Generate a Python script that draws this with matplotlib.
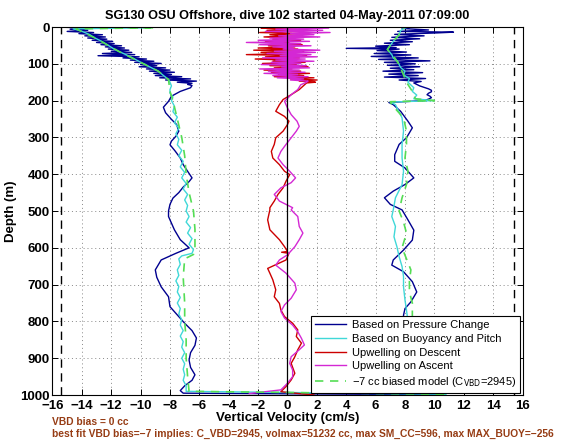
import matplotlib
matplotlib.use("Agg")
import matplotlib.pyplot as plt
import numpy as np

plt.rcParams['font.family'] = ['Liberation Sans', 'DejaVu Sans']

# ---------------- data ----------------
title = "SG130 OSU Offshore, dive 102 started 04-May-2011 07:09:00"
xticks = list(range(-16, 17, 2))
yticks = list(range(0, 1001, 100))
vmax_lines = [-15.4, 15.4]

# Based on pressure change (dive then climb)
blue_down_d = [0, 3, 6, 9, 12, 15, 18, 21, 24, 27, 30, 33, 36, 39, 42, 45, 48, 51, 54, 57,
               60, 63, 66, 69, 72, 75, 78, 81, 84, 87, 90, 93, 96, 99, 102, 105, 108, 111, 114, 117,
               120, 123, 126, 129, 132, 135, 138, 141, 144, 147, 150, 153, 156, 159,
               165, 175, 188, 202, 218, 233, 251, 265, 283, 297, 310, 320, 337, 356, 374, 392,
               410, 420, 435, 450, 465, 482, 500, 515, 533, 551, 578, 600, 615, 633, 660, 680,
               706, 733, 760, 787, 805, 825, 845, 865, 885, 905, 925, 945, 960, 975, 988, 995]
blue_down_v = [-15.9, -13.0, -14.8, -13.6, -15.0, -13.2, -14.2, -12.6, -13.8, -12.4, -13.6, -12.3, -13.3, -11.9, -13.0, -11.8, -12.7, -11.3, -12.4, -11.1,
               -12.2, -10.8, -12.0, -10.6, -12.6, -10.4, -12.9, -10.1, -11.2, -9.6, -10.7, -9.1, -10.4, -8.6, -10.0, -8.9, -10.1, -8.3, -9.6, -8.0,
               -9.4, -7.7, -9.1, -7.9, -9.0, -7.2, -8.7, -6.6, -8.3, -6.2, -7.5, -6.5, -6.8, -6.5,
               -6.6, -7.3, -7.9, -8.1, -8.45, -8.3, -7.9, -7.55, -7.4, -7.6, -7.9, -8.0, -7.65, -7.3, -7.1, -6.8,
               -6.5, -6.7, -7.1, -7.4, -7.8, -8.0, -8.1, -8.1, -7.9, -7.7, -7.3, -6.7, -7.6, -8.6, -9.0, -8.9,
               -8.6, -8.1, -8.0, -7.4, -7.0, -6.5, -6.2, -6.3, -6.6, -6.7, -6.6, -6.3, -6.5, -7.0, -7.3, -7.1]
blue_up_d = [999, 985, 960, 940, 920, 900, 880, 860, 840, 820, 800, 783, 765, 747, 720, 692, 665, 647, 633, 606,
             579, 552, 524, 497, 482, 464, 446, 428, 410, 383, 365, 347, 319, 301, 274, 256, 229, 211, 205,
             200, 196, 192, 188, 184, 180, 176, 172, 168, 164, 160, 156, 152,
             148, 144, 140, 136, 132, 128, 124, 120, 116, 112, 108, 104, 100, 96, 92, 88, 84, 80,
             76, 72, 68, 64, 60, 58, 56, 52, 48, 44, 40, 36, 32, 28, 24, 20, 16, 14, 12, 8, 4, 0]
blue_up_v = [10.2, 9.5, 8.8, 8.5, 8.3, 8.6, 8.8, 8.5, 8.2, 8.0, 7.9, 7.9, 8.0, 8.4, 8.8, 8.5, 7.9, 7.1, 7.2, 7.9,
             8.5, 8.6, 8.2, 7.8, 7.0, 6.6, 7.2, 8.0, 8.6, 8.0, 7.3, 7.3, 7.6, 8.1, 8.5, 8.2, 7.7, 7.2, 6.9,
             9.3, 9.6, 9.8, 9.7, 9.5, 9.6, 9.8, 9.8, 9.6, 9.3, 9.0, 8.8, 8.6,
             9.1, 7.6, 9.4, 6.6, 8.9, 6.9, 9.2, 6.5, 8.6, 7.0, 9.0, 6.8, 8.7, 6.6, 9.7, 6.2, 8.9, 5.7,
             8.4, 5.9, 8.1, 6.1, 7.6, 4.0, 7.4, 6.0, 8.3, 6.6, 8.5, 7.0, 9.0, 7.1, 9.3, 7.3, 10.2, 11.3, 7.5, 9.6, 7.8, 8.5]

# Based on buoyancy and pitch
cyan_down_d = [0, 2, 5, 10, 20, 30, 40, 50, 60, 66, 75, 85, 100, 110, 120, 130, 143, 150,
               160, 170, 180, 190, 200, 215, 230, 245, 260, 275, 290, 305, 320, 335, 350, 365, 380, 395,
               410, 425, 440, 455, 470, 485, 500, 515, 530, 545, 560, 575, 590, 605, 615, 622, 630, 645,
               660, 675, 690, 705, 720, 735, 750, 765, 780, 795, 810, 825, 840, 855, 870, 885, 900, 915,
               930, 945, 960, 975, 990]
cyan_down_v = [-16.0, -9.5, -14.6, -14.1, -13.5, -13.1, -12.6, -12.2, -11.8, -11.5, -11.0, -10.5, -9.8, -9.3, -8.8, -8.5, -8.1, -8.0,
               -7.9, -8.0, -8.0, -7.8, -7.9, -7.7, -7.8, -7.5, -7.7, -7.4, -7.6, -7.4, -7.5, -7.2, -7.4, -7.1, -7.3, -7.0,
               -7.2, -6.9, -7.1, -6.8, -7.0, -6.8, -6.9, -6.7, -6.9, -6.6, -6.8, -6.5, -6.7, -6.4, -6.5, -7.2, -7.4, -7.3,
               -7.5, -7.4, -7.6, -7.4, -7.5, -7.3, -7.5, -7.3, -7.4, -7.2, -7.3, -7.1, -7.3, -7.1, -7.2, -7.0, -7.2, -7.0,
               -7.1, -7.0, -7.1, -6.9, -6.9]
cyan_up_d = [998, 960, 920, 880, 840, 800, 769, 742, 706, 678, 651, 624, 597, 570, 542, 515, 497, 464, 428, 392,
             356, 319, 283, 247, 211, 204, 200, 195, 185, 175, 165, 150, 140, 130, 120, 110, 102, 93, 84, 75,
             61, 50, 39, 30, 21, 10, 4, 0]
cyan_up_v = [10.8, 8.4, 8.3, 8.3, 8.2, 8.2, 8.1, 8.0, 7.9, 7.9, 7.8, 7.6, 7.45, 7.25, 7.35, 7.1, 7.2, 7.35, 7.8, 7.9,
             7.8, 7.8, 7.9, 7.8, 7.35, 7.0, 10.0, 8.6, 8.8, 8.5, 8.6, 8.2, 8.3, 7.9, 8.0, 7.7, 7.6, 7.5, 7.2, 7.1,
             6.8, 7.0, 7.2, 7.4, 7.6, 7.7, 7.9, 8.2]

# Upwelling on descent
red_d = [0, 1, 3, 6, 9, 12, 15, 18, 21, 24, 27, 30, 33, 36, 39, 42, 45, 48, 51, 54, 57, 60,
         63, 66, 69, 72, 75, 78, 81, 84, 87, 90, 93, 96, 99, 102, 105, 108, 111, 114, 117, 120,
         123, 126, 129, 132, 135, 138, 141, 144, 147, 150,
         152, 170, 184, 197, 211, 229, 243, 256, 265, 283, 301, 319, 338, 356, 374, 392, 401, 419,
         437, 455, 473, 491, 497, 524, 551, 578, 597, 610, 612, 615, 633, 656, 669, 687, 714, 733,
         751, 769, 787, 805, 823, 841, 859, 877, 896, 914, 941, 959, 977, 991, 1000]
red_v = [16.0, -0.5, -1.8, 0.6, -1.4, 0.3, -1.9, 0.8, -1.2, 0.2, -1.6, 0.4, -1.0, 0.9, -1.5, 0.1, -0.8, 1.0, -1.3, 0.5, -2.0, 0.7,
         -2.3, 1.1, -1.8, 0.4, -2.8, 1.3, -1.5, 0.8, -2.2, 0.2, -1.0, 1.2, -1.7, 0.6, -1.2, 1.4, -0.9, 0.3, -1.6, 0.9,
         -1.1, 1.5, -0.6, 1.1, -0.9, 1.8, 0.2, 2.0, 0.8, 1.9,
         1.3, 0.8, 0.25, -0.3, -0.55, -0.8, -0.2, 0.1, 0.0, -0.3, -0.8, -0.9, -1.1, -1.0, -0.55, -0.2, 0.15, -0.1,
         -0.3, -0.65, -0.9, -1.2, -1.2, -1.35, -1.2, -0.55, -0.2, 0.0, -0.4, 0.1, -0.1, -1.35, -1.2, -1.0, -0.8, -0.9,
         -0.55, -0.45, -0.2, 0.35, 0.7, 0.6, 0.95, 0.7, 0.5, 0.25, 0.5, 0.25, -0.1, -0.45, 1.8]

# Upwelling on ascent
mag_d = [0, 3, 6, 9, 12, 15, 18, 21, 24, 27, 30, 33, 36, 39, 42, 45, 48, 51, 54, 57, 60,
         63, 66, 69, 72, 75, 78, 81, 84, 87, 90, 93, 96, 99, 102, 105, 108, 111, 114, 117, 120,
         123, 126, 129, 132, 135, 138, 141, 144, 147, 150,
         157, 170, 184, 202, 220, 238, 256, 270, 283, 301, 319, 338, 356, 374, 392, 410, 423, 437,
         455, 473, 491, 497, 515, 542, 560, 578, 597, 619, 633, 647, 669, 696, 714, 737, 755, 773,
         791, 810, 828, 846, 864, 877, 896, 914, 932, 950, 968, 986, 996]
mag_v = [1.0, 2.8, -0.8, 2.4, -1.5, 2.9, 0.2, 1.8, -0.6, 2.2, -1.2, 1.1, -2.0, 1.5, -2.8, 0.9, -1.9, 1.6, -1.0, 0.4, -0.3,
         2.2, -0.9, 1.9, -1.4, 1.6, -0.5, 2.0, -1.7, 1.2, -0.8, 1.8, -1.1, 0.9, -1.8, 1.3, -0.4, 1.5, -1.9, 0.8, -1.3,
         1.2, -1.6, 0.7, -1.0, 1.4, -0.7, 1.1, 0.2, 1.4, 1.3,
         0.9, 0.7, 0.25, -0.2, 0.0, 0.25, 0.65, 0.8, 0.6, 0.25, -0.1, -0.45, -0.65, -0.3, 0.15, 0.55, 0.25, -0.45,
         -0.9, -0.55, 0.35, 0.25, 0.7, 0.8, 1.05, 0.8, 0.5, 0.0, -0.55, -0.8, -0.1, 0.5, 0.6, 0.25, -0.2, -0.45,
         -0.2, 0.35, 0.7, 0.95, 1.15, 0.8, 0.25, 0.15, 0.35, 0.35, 0.0, -0.45, -2.6]

# -7 cc biased model
green_down_d = [0, 2, 5, 30, 66, 100, 120, 143, 175, 200, 250, 300, 350, 400, 450, 500, 550, 600, 618,
                630, 680, 750, 800, 850, 900, 950, 990]
green_down_v = [-16.0, -9.0, -14.4, -13.1, -11.5, -9.8, -8.8, -8.1, -8.0, -7.8, -7.5, -7.2, -7.0, -6.9, -6.7, -6.4, -6.3, -6.3, -6.4,
                -7.0, -7.1, -7.0, -7.0, -6.9, -6.9, -6.8, -6.7]
green_up_d = [998, 950, 900, 850, 800, 780, 750, 720, 690, 660, 630, 600, 560, 530, 500, 464, 428, 392, 356, 319,
              283, 247, 211, 203, 200, 195, 175, 150, 130, 102, 84, 61, 39, 21, 7, 0]
green_up_v = [10.8, 8.6, 8.6, 8.5, 8.5, 8.5, 8.5, 8.3, 8.3, 8.4, 8.1, 7.8, 8.1, 7.9, 7.6, 7.8, 8.1, 8.2, 8.0, 8.1,
              8.1, 7.9, 7.1, 7.0, 10.0, 8.7, 8.5, 8.1, 7.9, 7.6, 7.3, 6.8, 7.2, 7.6, 7.7, 8.0]

labels = ["Based on Pressure Change", "Based on Buoyancy and Pitch", "Upwelling on Descent",
          "Upwelling on Ascent", "\u22127 cc biased model (C$_{\\mathrm{VBD}}$=2945)"]
note1 = "VBD bias = 0 cc"
note2 = "best fit VBD bias=\u22127 implies: C_VBD=2945, volmax=51232 cc, max SM_CC=596, max MAX_BUOY=\u2212256"

# ---------------- plot ----------------
fig = plt.figure(figsize=(5.68, 4.42), dpi=100)
ax = fig.add_axes([0.0924, 0.1063, 0.8275, 0.8326])

c_blue = '#00008f'
c_cyan = '#40d8d8'
c_red = '#cc0000'
c_mag = '#d428d4'
c_green = '#55dd55'

blue_d = blue_down_d + blue_up_d
blue_v = blue_down_v + blue_up_v
cyan_d = cyan_down_d + cyan_up_d
cyan_v = cyan_down_v + cyan_up_v
green_d = green_down_d + green_up_d
green_v = green_down_v + green_up_v

ax.plot(blue_v, blue_d, color=c_blue, lw=1.0, label=labels[0])
ax.plot(cyan_v, cyan_d, color=c_cyan, lw=1.0, label=labels[1])
ax.plot(red_v, red_d, color=c_red, lw=1.0, label=labels[2])
ax.plot(mag_v, mag_d, color=c_mag, lw=1.0, label=labels[3])
ax.plot(green_v, green_d, color=c_green, lw=1.2, ls=(0, (5, 4)), label=labels[4])

for xv in vmax_lines:
    ax.axvline(xv, color='black', lw=1.0, ls=(0, (6, 4)))
ax.axvline(0, color='black', lw=0.9)

ax.set_xlim(-16, 16)
ax.set_ylim(1000, 0)
ax.set_xticks(xticks)
ax.set_yticks(yticks)
ax.set_xticklabels([str(t).replace('-', '\u2212') for t in xticks])
ax.grid(True, ls=(0, (1, 3)), color='#888888', lw=0.7)
ax.tick_params(direction='in', top=True, right=True, length=4, width=0.7, labelsize=9.5)
ax.tick_params(axis='x', pad=3.5)
ax.tick_params(axis='y', pad=2)
for lab in ax.get_xticklabels() + ax.get_yticklabels():
    lab.set_fontweight('bold')
for s in ax.spines.values():
    s.set_linewidth(0.8)

ax.set_title(title, fontsize=9.2, fontweight='bold', pad=6)
ax.set_xlabel("Vertical Velocity (cm/s)", fontsize=9.5, fontweight='bold', labelpad=0)
ax.set_ylabel("Depth (m)", fontsize=9.5, fontweight='bold', labelpad=2)

leg = ax.legend(loc='lower right', fontsize=8, frameon=True, fancybox=False, edgecolor='black',
                framealpha=1, borderpad=0.35, labelspacing=0.33, handlelength=2.8, handletextpad=0.5,
                borderaxespad=0.2)
leg.get_frame().set_linewidth(0.8)

fig.text(52 / 568, 1 - 422 / 442, note1, color='#963c14', fontsize=7.4, fontweight='bold', va='center')
fig.text(52 / 568, 1 - 434 / 442, note2, color='#963c14', fontsize=7.4, fontweight='bold', va='center')

fig.savefig("out.png", dpi=100)
